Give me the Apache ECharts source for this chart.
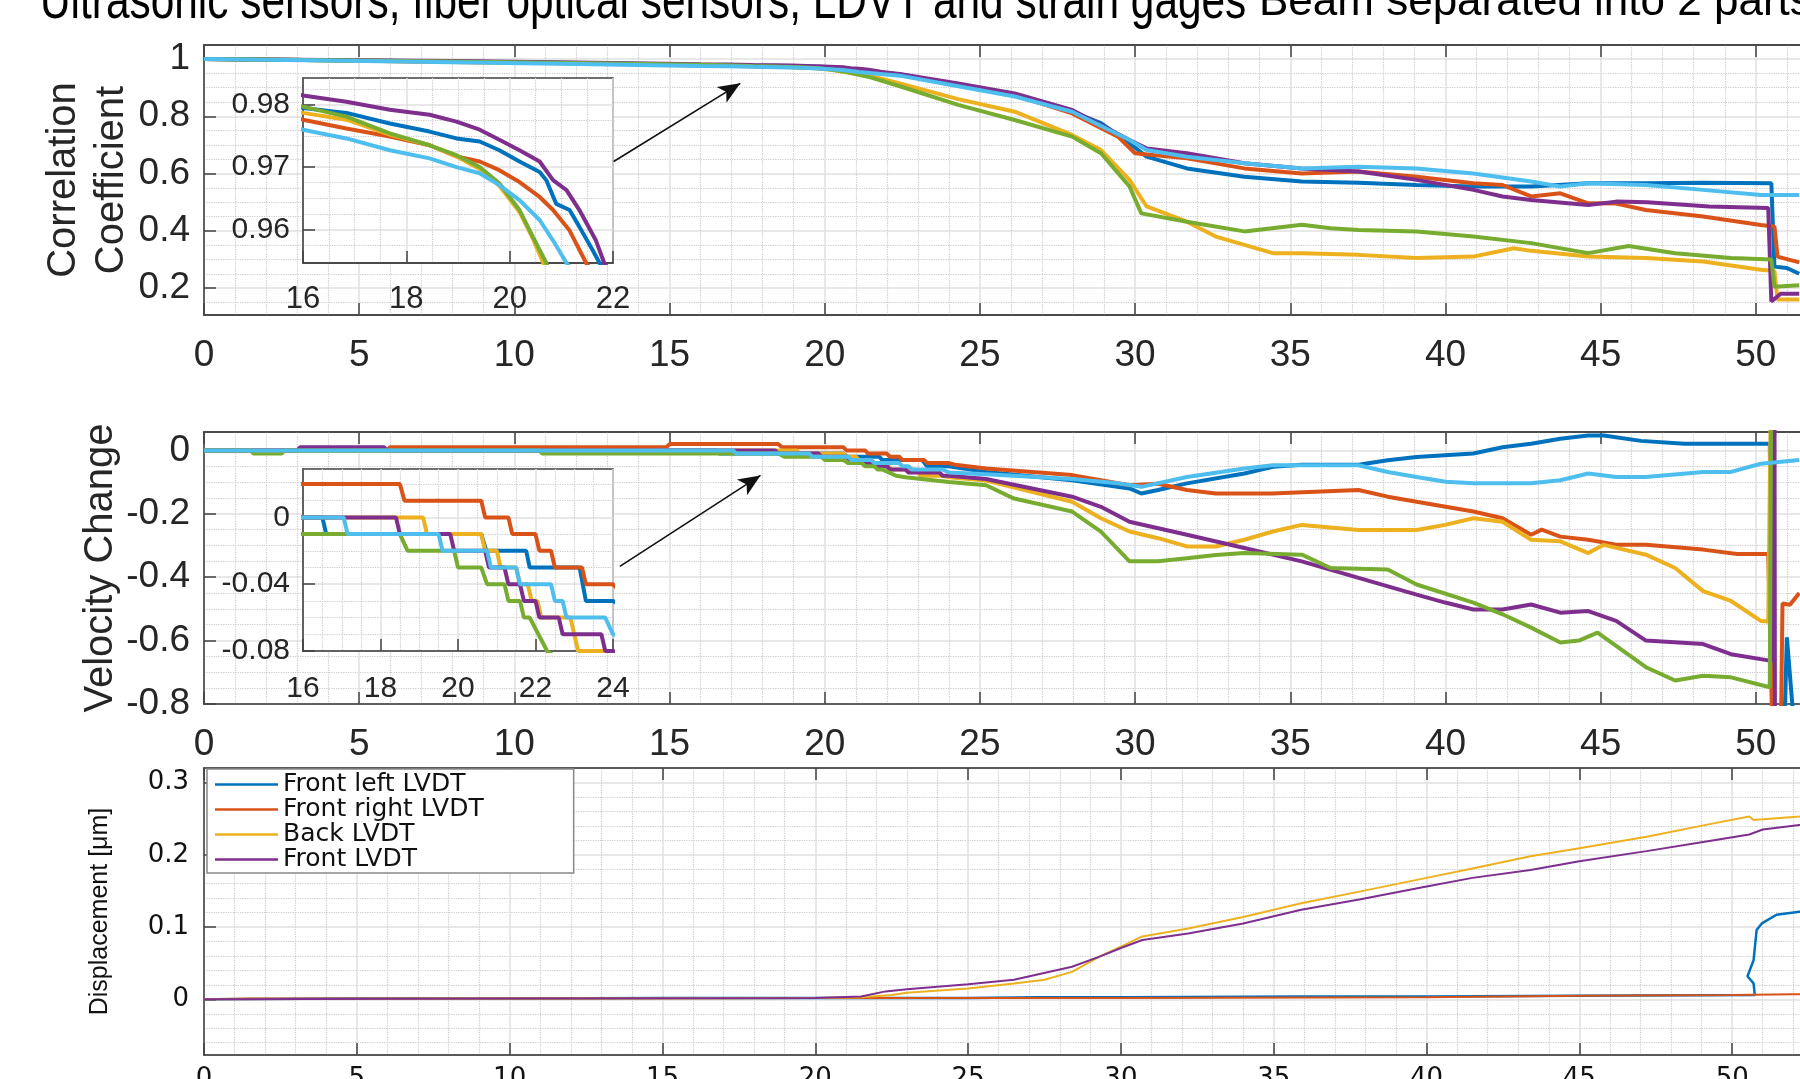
<!DOCTYPE html>
<html>
<head>
<meta charset="utf-8">
<title>Ultrasonic sensors, fiber optical sensors, LDVT and strain gages</title>
<script src="https://cdn.jsdelivr.net/npm/echarts@6/dist/echarts.min.js"></script>
<style>
  html, body { margin: 0; padding: 0; background: #fff; overflow: hidden; }
  #chart { width: 1920px; height: 1079px; }
</style>
</head>
<body>
<div id="chart"></div>
<script>
// matlab default colour order, one colour per ultrasonic path
const pathColors = ['#0072BD', '#D95319', '#EDB120', '#7E2F8E', '#77AC30', '#4DBEEE']
const pathNames = ['Path 1', 'Path 2', 'Path 3', 'Path 4', 'Path 5', 'Path 6']

// correlation coefficient, [time, value]
const corrBlue = [[0,1.0],[4,0.996],[8,0.991],[12,0.986],[16,0.9795],[16.84,0.9787],[17.68,0.977],[18.45,0.9757],[18.97,0.9746],[19.42,0.9741],[19.8,0.9727],[20.19,0.9709],[20.58,0.9692],[20.71,0.9679],[20.9,0.9641],[21.16,0.9631],[21.35,0.9604],[21.61,0.9566],[21.74,0.9546],[22.42,0.946],[24.3,0.91],[26.12,0.874],[27.97,0.816],[28.9,0.776],[29.82,0.706],[30.37,0.659],[31.67,0.618],[33.52,0.589],[35.37,0.572],[37.2,0.568],[39.07,0.56],[40.9,0.555],[42.76,0.555],[44.6,0.566],[46.5,0.566],[48.3,0.568],[50.5,0.566],[50.6,0.275],[51,0.27],[51.4,0.25]]
const corrOrange = [[0,1.0],[4,0.996],[8,0.99],[12,0.985],[16,0.9776],[16.84,0.9762],[17.68,0.9749],[18.45,0.9735],[18.97,0.9717],[19.42,0.9709],[19.8,0.9695],[20.19,0.9676],[20.58,0.9652],[20.84,0.9631],[21.16,0.9598],[21.48,0.9546],[22.42,0.944],[24.3,0.91],[26.12,0.874],[27.97,0.81],[29.45,0.729],[30,0.671],[31.67,0.653],[33.52,0.618],[35.37,0.6],[37.2,0.607],[39.07,0.589],[40.9,0.566],[41.84,0.56],[42.76,0.52],[43.7,0.531],[44.6,0.496],[45.5,0.495],[46.46,0.473],[48.3,0.45],[50.16,0.42],[50.6,0.415],[50.7,0.31],[51.4,0.29]]
const corrYellow = [[0,1.0],[4,0.996],[8,0.99],[12,0.985],[16,0.9787],[16.84,0.9776],[17.68,0.9752],[18.45,0.9735],[18.97,0.9717],[19.42,0.9697],[19.8,0.967],[20.19,0.9628],[20.45,0.9585],[20.65,0.9546],[21.5,0.94],[22.42,0.915],[24.3,0.86],[26.12,0.816],[27.97,0.735],[28.9,0.682],[29.82,0.578],[30.37,0.485],[31.67,0.432],[32.6,0.38],[33.52,0.351],[34.44,0.322],[35.37,0.322],[37.2,0.316],[39.07,0.305],[40.9,0.31],[42.2,0.339],[42.76,0.33],[44.6,0.31],[46.46,0.305],[48.3,0.293],[50.16,0.264],[50.6,0.26],[50.7,0.16],[51.4,0.16]]
const corrPurple = [[0,1.0],[4,0.997],[8,0.993],[12,0.988],[16,0.9815],[16.84,0.9805],[17.68,0.9792],[18.45,0.9784],[18.97,0.9773],[19.42,0.976],[19.8,0.9744],[20.19,0.9727],[20.58,0.9709],[20.84,0.9679],[21.1,0.9663],[21.35,0.9631],[21.67,0.9582],[21.83,0.9546],[22.42,0.948],[24.3,0.915],[26.12,0.88],[27.97,0.822],[29.82,0.717],[30.37,0.688],[31.67,0.671],[33.52,0.636],[35.37,0.618],[37.2,0.607],[39.07,0.578],[40.9,0.543],[41.84,0.52],[42.76,0.508],[44.6,0.49],[45.5,0.502],[46.5,0.5],[48.5,0.485],[50.4,0.48],[50.5,0.153],[50.8,0.18],[51.4,0.18]]
const corrGreen = [[0,1.0],[4,0.996],[8,0.991],[12,0.986],[16,0.9797],[16.84,0.9781],[17.68,0.9754],[18.45,0.9735],[18.97,0.9719],[19.42,0.97],[19.8,0.9674],[20.19,0.9631],[20.45,0.9588],[20.71,0.9546],[21.5,0.935],[22.42,0.905],[24.3,0.84],[26.12,0.787],[27.97,0.729],[28.9,0.671],[29.82,0.555],[30.2,0.461],[31.67,0.432],[33.52,0.398],[35.37,0.421],[36.3,0.409],[37.2,0.403],[39.07,0.398],[40.9,0.38],[42.76,0.357],[44.6,0.322],[45.9,0.347],[47.4,0.322],[49.2,0.305],[50.5,0.3],[50.6,0.205],[51.4,0.21]]
const corrLightBlue = [[0,1.0],[4,0.995],[8,0.989],[12,0.983],[16,0.976],[16.84,0.9746],[17.68,0.9727],[18.45,0.9714],[18.97,0.97],[19.42,0.969],[19.8,0.9671],[20.19,0.9647],[20.58,0.9615],[20.84,0.9582],[21.1,0.9546],[22.42,0.942],[24.3,0.905],[26.12,0.869],[27.97,0.816],[29.82,0.717],[30.37,0.682],[31.67,0.659],[33.52,0.636],[35.37,0.618],[37.2,0.624],[39.07,0.618],[40.9,0.6],[42.76,0.572],[43.7,0.555],[44.6,0.566],[46.46,0.56],[48.3,0.543],[50.16,0.525],[51.4,0.525]]

// velocity change, [time, value]
const velBlue = [[0,0],[16.5,0],[16.6,-0.01],[20.6,-0.01],[20.73,-0.02],[21.76,-0.02],[21.85,-0.03],[23.14,-0.03],[23.3,-0.05],[24,-0.05],[25.2,-0.068],[27.97,-0.094],[29.82,-0.12],[30.2,-0.136],[30.74,-0.125],[31.67,-0.104],[33.52,-0.073],[34.44,-0.052],[35.37,-0.045],[37.2,-0.045],[38.14,-0.031],[39.07,-0.021],[40.9,-0.01],[41.84,0.01],[42.76,0.021],[43.7,0.037],[44.6,0.047],[45.1,0.047],[46.3,0.03],[47.7,0.021],[50.45,0.021],[50.55,-0.95],[50.9,-0.95],[51.0,-0.59],[51.3,-0.95],[51.4,-0.95]]
const velOrange = [[0,0],[5.9,0],[6,0.01],[14.9,0.01],[15,0.02],[18.5,0.02],[18.62,0.01],[20.6,0.01],[20.7,0],[21.3,0],[21.4,-0.01],[22,-0.01],[22.1,-0.02],[22.4,-0.02],[22.5,-0.03],[23.2,-0.03],[23.3,-0.04],[24,-0.04],[24.2,-0.045],[25.2,-0.057],[27.97,-0.078],[29.82,-0.11],[30.74,-0.105],[31.67,-0.125],[32.6,-0.136],[34.4,-0.136],[37.2,-0.125],[38.14,-0.146],[39.07,-0.162],[40.9,-0.193],[41.84,-0.214],[42.76,-0.266],[43.1,-0.25],[43.7,-0.272],[44.6,-0.282],[45.54,-0.298],[46.46,-0.298],[48.3,-0.313],[49.4,-0.327],[50.4,-0.327],[50.55,-0.95],[50.8,-0.95],[50.86,-0.483],[51.1,-0.487],[51.4,-0.45]]
const velYellow = [[0,0],[19.1,0],[19.2,-0.01],[20.6,-0.01],[20.7,-0.02],[21.0,-0.02],[21.1,-0.03],[21.5,-0.03],[21.6,-0.04],[21.8,-0.04],[21.9,-0.05],[22.05,-0.05],[22.15,-0.06],[22.9,-0.06],[23.0,-0.07],[23.1,-0.08],[23.8,-0.08],[24,-0.085],[25.2,-0.095],[27.97,-0.162],[28.9,-0.214],[29.82,-0.256],[30.74,-0.277],[31.67,-0.303],[32.6,-0.303],[33.52,-0.282],[34.44,-0.256],[35.37,-0.235],[37.2,-0.251],[39.07,-0.251],[39.99,-0.235],[40.9,-0.214],[41.84,-0.225],[42.76,-0.282],[43.7,-0.287],[44.6,-0.324],[45.1,-0.298],[46.46,-0.329],[47.4,-0.371],[48.3,-0.444],[49.2,-0.475],[50.16,-0.538],[50.4,-0.54],[50.5,0.3],[51.4,0.3]]
const velPurple = [[0,0],[3,0],[3.1,0.01],[5.8,0.01],[5.9,0],[18.4,0],[18.5,-0.01],[19.8,-0.01],[19.9,-0.02],[20.7,-0.02],[20.8,-0.03],[21.2,-0.03],[21.3,-0.04],[21.6,-0.04],[21.7,-0.05],[22,-0.05],[22.1,-0.06],[22.6,-0.06],[22.7,-0.07],[23.7,-0.07],[23.8,-0.08],[24,-0.08],[25.2,-0.09],[27.97,-0.146],[28.9,-0.178],[29.82,-0.225],[31.67,-0.266],[33.52,-0.308],[35.37,-0.35],[37.2,-0.402],[39.07,-0.455],[39.99,-0.48],[40.9,-0.502],[41.84,-0.502],[42.76,-0.486],[43.7,-0.512],[44.6,-0.507],[45.5,-0.538],[46.46,-0.6],[48.3,-0.611],[49.2,-0.643],[50.5,-0.664],[50.6,0.3],[50.62,-1.2],[51.4,-1.2]]
const velGreen = [[0,0],[1.5,0],[1.6,-0.01],[2.5,-0.01],[2.6,0],[10.8,0],[10.9,-0.01],[18.5,-0.01],[18.7,-0.02],[19.9,-0.02],[20.0,-0.03],[20.6,-0.03],[20.75,-0.04],[21.2,-0.04],[21.3,-0.05],[21.6,-0.05],[21.7,-0.06],[21.85,-0.06],[22.3,-0.08],[22.6,-0.085],[24,-0.1],[25.2,-0.11],[26.1,-0.152],[27.97,-0.193],[28.9,-0.256],[29.82,-0.35],[30.74,-0.35],[31.67,-0.34],[32.6,-0.33],[33.52,-0.324],[35.37,-0.329],[36.3,-0.371],[38.14,-0.376],[39.07,-0.423],[40.9,-0.48],[41.84,-0.517],[42.76,-0.559],[43.7,-0.606],[44.3,-0.6],[44.9,-0.575],[46.46,-0.684],[47.4,-0.726],[48.3,-0.711],[49.2,-0.716],[50.45,-0.747],[50.5,0.3],[51.4,0.3]]
const velLightBlue = [[0,0],[17.05,0],[17.15,-0.01],[19.5,-0.01],[19.6,-0.02],[20.75,-0.02],[20.85,-0.03],[21.5,-0.03],[21.6,-0.04],[22.4,-0.04],[22.5,-0.05],[22.7,-0.05],[22.8,-0.06],[23.8,-0.06],[24,-0.07],[25.2,-0.075],[27.97,-0.09],[29.45,-0.104],[30.2,-0.115],[31.67,-0.084],[33.52,-0.057],[34.44,-0.047],[37.2,-0.047],[38.14,-0.068],[39.07,-0.084],[40,-0.099],[40.9,-0.104],[42.76,-0.104],[43.7,-0.094],[44.6,-0.073],[45.5,-0.084],[46.46,-0.084],[48.3,-0.068],[49.2,-0.068],[50.16,-0.042],[51.4,-0.03]]

// LVDT displacement, [time, value]
const lvdtNames = ['Front left LVDT', 'Front right LVDT', 'Back LVDT', 'Front LVDT']
const dispFrontLeft = [[0,0],[5,0.001],[10,0.001],[15,0.002],[20,0.002],[25,0.002],[27.3,0.003],[30,0.003],[36,0.004],[40,0.004],[45,0.005],[50.74,0.006],[50.74,0.008],[50.7,0.022],[50.5,0.032],[50.7,0.054],[50.8,0.096],[50.97,0.105],[51.45,0.117],[52.2,0.121],[53,0.122]]
const dispFrontRight = [[0,0],[1.5,0.001],[10,0.001],[20,0.002],[30,0.002],[40,0.003],[45,0.005],[50,0.006],[52,0.007],[55,0.007]]
const dispBack = [[0,0],[10,0.001],[20,0.002],[21.5,0.003],[22.5,0.006],[23,0.009],[25,0.015],[26.5,0.022],[27.5,0.027],[28.4,0.038],[29.3,0.059],[30,0.073],[30.7,0.087],[32.2,0.098],[34,0.114],[35.9,0.133],[37.8,0.149],[40,0.168],[41.5,0.181],[43.4,0.198],[45,0.209],[47.2,0.225],[49.1,0.241],[50.56,0.253],[50.7,0.248],[52.2,0.253],[53,0.256]]
const dispFront = [[0,0],[10,0.001],[20,0.002],[21.5,0.004],[22.3,0.011],[23,0.014],[25,0.021],[26.5,0.027],[28.4,0.045],[29.3,0.059],[30,0.071],[30.7,0.082],[32.2,0.091],[34,0.105],[35.9,0.124],[37.8,0.138],[40,0.156],[41.5,0.168],[43.4,0.179],[45,0.191],[47.2,0.205],[49.1,0.218],[50.56,0.228],[51,0.235],[52.2,0.241],[53,0.244]]

// tick values
const corrTicks = [0.2, 0.4, 0.6, 0.8, 1]
const corrMinorTicks = [0.15, 0.25, 0.3, 0.35, 0.45, 0.5, 0.55, 0.65, 0.7, 0.75, 0.85, 0.9, 0.95]
const velTicks = [-0.8, -0.6, -0.4, -0.2, 0]
const velMinorTicks = [-0.75, -0.7, -0.65, -0.55, -0.5, -0.45, -0.35, -0.3, -0.25, -0.15, -0.1, -0.05]
const dispTicks = [0, 0.1, 0.2, 0.3]
const dispMinorTicks = [-0.06, -0.04, -0.02, 0.02, 0.04, 0.06, 0.08, 0.12, 0.14, 0.16, 0.18, 0.22, 0.24, 0.26, 0.28]
const corrZoomTicks = [0.96, 0.97, 0.98]
const corrZoomMinorTicks = [0.9575, 0.9625, 0.965, 0.9675, 0.9725, 0.975, 0.9775, 0.9825]
const velZoomTicks = [-0.08, -0.04, 0]
const velZoomMinorTicks = [-0.07, -0.06, -0.05, -0.03, -0.02, -0.01, 0.01, 0.02]

// zoom arrows (tail, head) in data units of the main panels
const corrArrow = [[13.2, 0.642], [17.28, 0.915]]
const velArrow = [[13.4, -0.366], [17.93, -0.079]]

const mainFont = 'Liberation Sans'
const lvdtFont = 'DejaVu Sans'
const axisColor = '#404040'
const textColor = '#262626'
const majorGrid = { show: true, lineStyle: { color: '#e0e0e0', width: 1.5 } }
const minorGrid = { show: true, lineStyle: { color: '#cccccc', width: 1.2, type: 'dotted' } }

function xAxisFor(gridIndex, min, max, interval, minorSplit, label, z) {
	return {
		type: 'value', gridIndex, min, max, interval, z: z || 0,
		position: label ? 'bottom' : 'top',
		axisLine: { show: true, onZero: false, lineStyle: { color: axisColor, width: 1.5 } },
		axisTick: { show: true, inside: true, length: 12, lineStyle: { color: axisColor, width: 1.5 } },
		axisLabel: label ? Object.assign({ show: true, color: textColor, showMaxLabel: true }, label) : { show: false },
		splitLine: label ? majorGrid : { show: false },
		minorTick: { show: false, splitNumber: minorSplit },
		minorSplitLine: label ? minorGrid : { show: false }
	}
}

function yMajor(gridIndex, min, max, ticks, label, name, z) {
	return {
		type: 'value', gridIndex, min, max, position: 'left', z: z || 0,
		axisLine: { show: true, onZero: false, lineStyle: { color: axisColor, width: 1.5 } },
		axisTick: { show: true, inside: true, length: 12, customValues: ticks, lineStyle: { color: axisColor, width: 1.5 } },
		axisLabel: Object.assign({ show: true, color: textColor, customValues: ticks }, label),
		splitLine: majorGrid,
		name: name ? name.text : '',
		nameLocation: 'middle', nameRotate: 90,
		nameGap: name ? name.gap : 0,
		nameMoveOverlap: false,
		nameTextStyle: name ? name.style : {}
	}
}

function yMinor(gridIndex, min, max, ticks, z) {
	return {
		type: 'value', gridIndex, min, max, position: 'left', z: z || 0,
		axisLine: { show: false },
		axisTick: { show: false, customValues: ticks },
		axisLabel: { show: false, customValues: ticks },
		splitLine: minorGrid
	}
}

function line(name, data, color, xi, yi, width, z) {
	return {
		type: 'line', name, data, xAxisIndex: xi, yAxisIndex: yi,
		symbol: 'none', showSymbol: false, clip: true, z,
		lineStyle: { color, width }, itemStyle: { color },
		emphasis: { disabled: true }
	}
}

function arrow(pts) {
	return {
		silent: true, symbol: ['none', 'arrow'], symbolSize: [14, 22],
		lineStyle: { color: '#111', width: 1.6, type: 'solid' },
		label: { show: false }, emphasis: { disabled: true },
		data: [[{ coord: pts[0] }, { coord: pts[1] }]]
	}
}

const corrSets = [corrBlue, corrOrange, corrYellow, corrPurple, corrGreen, corrLightBlue]
const velSets = [velBlue, velOrange, velYellow, velPurple, velGreen, velLightBlue]
const dispSets = [dispFrontLeft, dispFrontRight, dispBack, dispFront]
const dispColors = ['#0072BD', '#D95319', '#EDB120', '#7E2F8E']

const series = []
corrSets.forEach((d, i) => series.push(line(pathNames[i], d, pathColors[i], 0, 0, 4, 2)))
corrSets.forEach((d, i) => series.push(line(pathNames[i] + ' zoom', d, pathColors[i], 2, 2, 4, 5)))
velSets.forEach((d, i) => series.push(line(pathNames[i] + ' dv', d, pathColors[i], 3, 4, 4, 2)))
velSets.forEach((d, i) => series.push(line(pathNames[i] + ' dv zoom', d, pathColors[i], 5, 6, 4, 5)))
dispSets.forEach((d, i) => series.push(line(lvdtNames[i], d, dispColors[i], 6, 8, i === 0 ? 2.5 : 2, 2)))
series[0].markLine = arrow(corrArrow)
series[12].markLine = arrow(velArrow)

const nameStyle = { fontFamily: mainFont, fontSize: 40, color: textColor, lineHeight: 48 }

const option = {
	animation: false,
	backgroundColor: '#fff',
	textStyle: { fontFamily: mainFont },
	grid: [
		{ left: 204, top: 45, width: 1707, height: 270, show: true, borderColor: axisColor, borderWidth: 1.5, containLabel: false, outerBoundsMode: 'none' },
		{ left: 303, top: 78, width: 310, height: 185, show: true, backgroundColor: '#fff', borderColor: axisColor, borderWidth: 1.5, z: 3, containLabel: false, outerBoundsMode: 'none' },
		{ left: 204, top: 432, width: 1707, height: 272, show: true, borderColor: axisColor, borderWidth: 1.5, containLabel: false, outerBoundsMode: 'none' },
		{ left: 303, top: 469, width: 310, height: 182, show: true, backgroundColor: '#fff', borderColor: axisColor, borderWidth: 1.5, z: 3, containLabel: false, outerBoundsMode: 'none' },
		{ left: 204, top: 768, width: 1681, height: 287, show: true, borderColor: '#8a8a8a', borderWidth: 1.5, containLabel: false, outerBoundsMode: 'none' }
	],
	xAxis: [
		xAxisFor(0, 0, 55, 5, 5, { fontSize: 37, margin: 22, fontFamily: mainFont }),
		xAxisFor(0, 0, 55, 5, 5, null),
		xAxisFor(1, 16, 22, 2, 4, { fontSize: 31, margin: 21, fontFamily: mainFont }, 4),
		xAxisFor(2, 0, 55, 5, 5, { fontSize: 37, margin: 22, fontFamily: mainFont }),
		xAxisFor(2, 0, 55, 5, 5, null),
		xAxisFor(3, 16, 24, 2, 4, { fontSize: 30, margin: 23, fontFamily: mainFont }, 4),
		xAxisFor(4, 0, 55, 5, 5, { fontSize: 26, margin: 11, fontFamily: lvdtFont, color: '#111' }),
		xAxisFor(4, 0, 55, 5, 5, null)
	],
	yAxis: [
		yMajor(0, 0.106, 1.049, corrTicks, { fontSize: 37, margin: 14, fontFamily: mainFont },
			{ text: 'Correlation\nCoefficient', gap: 68, style: nameStyle }),
		yMinor(0, 0.106, 1.049, corrMinorTicks),
		yMajor(1, 0.9546, 0.9843, corrZoomTicks, { fontSize: 30, margin: 13, fontFamily: mainFont }, null, 4),
		yMinor(1, 0.9546, 0.9843, corrZoomMinorTicks, 4),
		yMajor(2, -0.8, 0.058, velTicks, { fontSize: 37, margin: 14, fontFamily: mainFont },
			{ text: 'Velocity Change', gap: 79, style: nameStyle }),
		yMinor(2, -0.8, 0.058, velMinorTicks),
		yMajor(3, -0.08, 0.029, velZoomTicks, { fontSize: 30, margin: 13, fontFamily: mainFont }, null, 4),
		yMinor(3, -0.08, 0.029, velZoomMinorTicks, 4),
		yMajor(4, -0.077, 0.32, dispTicks, { fontSize: 26, margin: 15, fontFamily: lvdtFont, color: '#111' },
			{ text: 'Displacement [μm]', gap: 91, style: { fontFamily: mainFont, fontSize: 25, color: '#111' } }),
		yMinor(4, -0.077, 0.32, dispMinorTicks)
	],
	legend: {
		data: lvdtNames,
		orient: 'vertical',
		left: 207, top: 769,
		padding: [3, 90, 1, 8],
		icon: 'rect',
		itemWidth: 63, itemHeight: 2.5, itemGap: 0,
		selectedMode: false,
		backgroundColor: '#fff',
		borderColor: '#888', borderWidth: 1.5, borderRadius: 0,
		textStyle: { fontFamily: lvdtFont, fontSize: 25, lineHeight: 24.4, color: '#111' }
	},
	graphic: [
		{ type: 'text', x: 40, y: 3.5, scaleX: 0.785, z: 10, style: { text: 'Ultrasonic sensors, fiber optical sensors, LDVT and strain gages', font: '54px "Liberation Sans", sans-serif', fill: '#000', verticalAlign: 'middle' } },
		{ type: 'text', x: 1259, y: 3, z: 10, style: { text: 'Beam separated into 2 parts', font: '44px "Liberation Sans", sans-serif', fill: '#000', verticalAlign: 'middle' } }
	],
	series
}

const chart = echarts.init(document.getElementById('chart'))
chart.setOption(option)
</script>
</body>
</html>
